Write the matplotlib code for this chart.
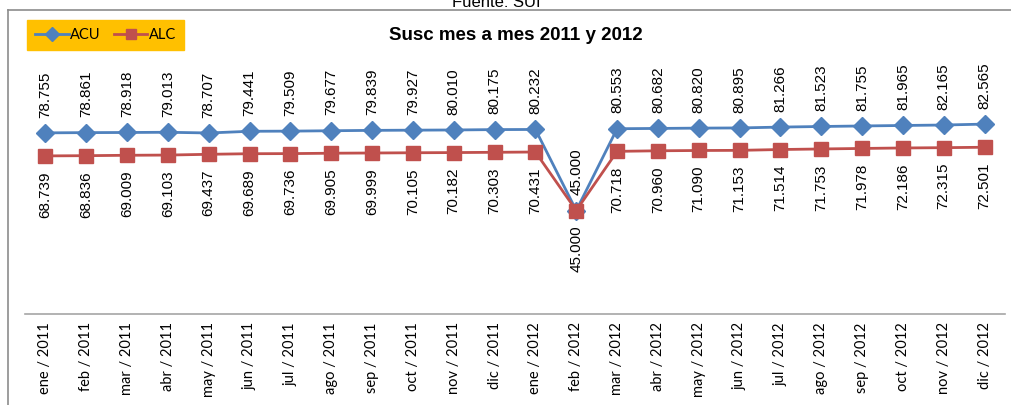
import matplotlib
matplotlib.use("Agg")
import matplotlib.pyplot as plt
from matplotlib.lines import Line2D

# 1. Input
months = ["ene", "feb", "mar", "abr", "may", "jun", "jul", "ago", "sep", "oct", "nov", "dic"]
years = ["2011", "2012"]
labels = [m + " / " + y for y in years for m in months]

acu = [78.755, 78.861, 78.918, 79.013, 78.707, 79.441, 79.509, 79.677, 79.839, 79.927,
       80.010, 80.175, 80.232, 45.000, 80.553, 80.682, 80.820, 80.895, 81.266, 81.523,
       81.755, 81.965, 82.165, 82.565]
alc = [68.739, 68.836, 69.009, 69.103, 69.437, 69.689, 69.736, 69.905, 69.999, 70.105,
       70.182, 70.303, 70.431, 45.000, 70.718, 70.960, 71.090, 71.153, 71.514, 71.753,
       71.978, 72.186, 72.315, 72.501]

# 2. Process
W, H = 1011, 405
x = list(range(len(labels)))
blue = "#4F81BD"
red = "#C0504D"

# 3. Output
fig = plt.figure(figsize=(W / 100, H / 100), dpi=100)
ax = fig.add_axes([25 / W, (H - 314) / H, 980 / W, 276 / H])

ax.plot(x, acu, color=blue, lw=2.0, marker="D", ms=9.5, label="ACU", zorder=3)
ax.plot(x, alc, color=red, lw=2.0, marker="s", ms=9.5, label="ALC", zorder=3)

for i in x:
    ax.annotate("%.3f" % acu[i], (i, acu[i]), xytext=(0, 11), textcoords="offset points",
                rotation=90, ha="center", va="bottom", fontsize=11,
                family="Liberation Sans")
    ax.annotate("%.3f" % alc[i], (i, alc[i]), xytext=(0, -11), textcoords="offset points",
                rotation=90, ha="center", va="top", fontsize=11,
                family="Liberation Sans")

ax.set_xlim(-0.5, len(labels) - 0.5)
ax.set_ylim(0, 120)
ax.set_xticks(x)
ax.set_xticklabels(labels, rotation=90, fontsize=10.5, family="Lato")
ax.tick_params(axis="x", length=0, pad=6)
ax.set_yticks([])
for s in ["top", "left", "right"]:
    ax.spines[s].set_visible(False)
ax.spines["bottom"].set_color("#A6A6A6")
ax.spines["bottom"].set_linewidth(1.2)
ax.patch.set_alpha(0)

fig.text(516 / W, 1 - 35 / H, "Susc mes a mes 2011 y 2012", ha="center", va="center",
         fontsize=13.5, fontweight="bold", family="Liberation Sans")
fig.text(452 / W, 1 - 7 / H, "Fuente: SUI", ha="left", va="baseline",
         fontsize=12, family="Liberation Sans")

leg = fig.legend(loc="center left", bbox_to_anchor=(27 / W, 1 - 35 / H), ncol=2,
                 frameon=True, fancybox=False, facecolor="#FFC000", edgecolor="#FFC000",
                 framealpha=1, prop={"family": "Lato", "size": 10.5}, handlelength=2.3,
                 columnspacing=0.9, handletextpad=0.1, borderpad=0.55, borderaxespad=0,
                 markerscale=0.8)

fig.add_artist(Line2D([8 / W, 1], [1 - 10 / H, 1 - 10 / H], color="#8C8C8C", lw=1.2))
fig.add_artist(Line2D([8 / W, 8 / W], [0, 1 - 10 / H], color="#8C8C8C", lw=1.2))

fig.savefig("out.png", dpi=100)
